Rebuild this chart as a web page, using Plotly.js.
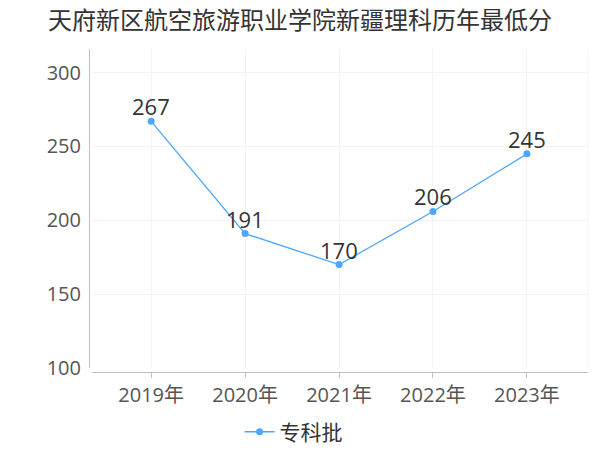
<!DOCTYPE html>
<html>
<head>
<meta charset="utf-8">
<script src="https://cdn.plot.ly/plotly-3.0.1.min.js"></script>
<style>html,body{margin:0;padding:0;background:#fff;}#chart{width:600px;height:450px;}</style>
</head>
<body>
<div id="chart"></div>
<script>
const categories = ["2019年", "2020年", "2021年", "2022年", "2023年"];
const seriesName = "专科批";
const scores = [267, 191, 170, 206, 245];
const yTicks = [100, 150, 200, 250, 300];

const FONT = "'Open Sans', 'Noto Sans CJK SC', sans-serif";
const CJK = "'Noto Sans CJK SC', 'Open Sans', sans-serif";

const trace = {
  type: "scatter",
  mode: "lines+markers",
  x: categories,
  y: scores,
  name: seriesName,
  line: {color: "#4da6ff", width: 1.3},
  marker: {color: "#4da6ff", size: 7},
  cliponaxis: false
};

const labels = categories.map((c, i) => ({
  x: c, y: scores[i], xref: "x", yref: "y",
  text: String(scores[i]), showarrow: false,
  yanchor: "bottom", xanchor: "center", yshift: -2,
  font: {family: FONT, size: 22, color: "#333333"}
}));

const layout = {
  width: 600, height: 450,
  margin: {l: 89, r: 12, t: 49, b: 78, autoexpand: false},
  paper_bgcolor: "#ffffff",
  plot_bgcolor: "#ffffff",
  title: {text: "天府新区航空旅游职业学院新疆理科历年最低分", font: {family: CJK, size: 24, color: "#333333"}, x: 0.08, xanchor: "left", y: 0.955, yanchor: "middle"},
  showlegend: true,
  legend: {orientation: "h", x: 0.41, xanchor: "center", y: -0.186, yanchor: "middle", font: {family: CJK, size: 21, color: "#333333"}},
  xaxis: {
    type: "category",
    range: [-0.63, 4.65],
    domain: [0.006, 1],
    anchor: "free", position: 0,
    automargin: false,
    showgrid: true, gridcolor: "#f3f3f3", gridwidth: 1,
    showline: true, linecolor: "#c0c0c0", linewidth: 1,
    ticks: "outside", ticklen: 5, tickcolor: "#c0c0c0",
    tickfont: {family: FONT, size: 20, color: "#555555"},
    zeroline: false
  },
  yaxis: {
    range: [100, 316],
    domain: [0.0124, 1],
    anchor: "free", position: 0,
    automargin: false,
    tickvals: yTicks,
    showgrid: true, gridcolor: "#f3f3f3", gridwidth: 1,
    showline: true, linecolor: "#c0c0c0", linewidth: 1,
    ticks: "", ticklabelstandoff: 4,
    tickfont: {family: FONT, size: 20, color: "#555555"},
    zeroline: false
  },
  annotations: labels,
  shapes: [
    {type: "line", xref: "paper", yref: "paper", x0: 1, x1: 1, y0: 0.0124, y1: 1, line: {color: "#f3f3f3", width: 1}}
  ]
};

Plotly.newPlot("chart", [trace], layout, {displayModeBar: false, staticPlot: true});
</script>
</body>
</html>
